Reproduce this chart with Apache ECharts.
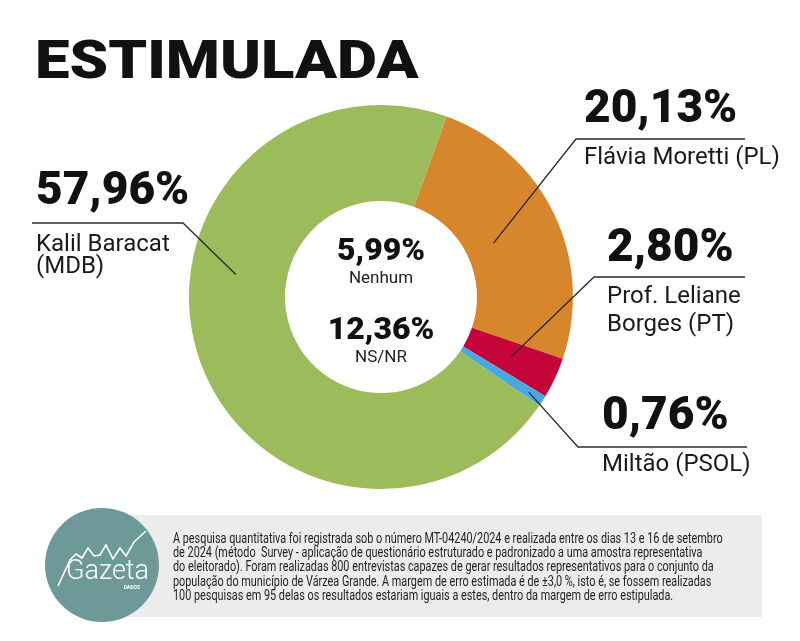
<!DOCTYPE html>
<html><head><meta charset="utf-8">
<script src="https://cdn.jsdelivr.net/npm/echarts@6/dist/echarts.min.js"></script>
<style>html,body{margin:0;padding:0;background:#fff}#c{width:800px;height:641px}</style>
</head><body><div id="c"></div>
<script>
// ---- data ----
const titleText = 'ESTIMULADA';
const candidates = ['Flávia Moretti (PL)', 'Prof. Leliane\nBorges (PT)', 'Miltão (PSOL)', 'Kalil Baracat\n(MDB)'];
const values = [20.13, 2.80, 0.76, 57.96];
const centerLabels = ['Nenhum', 'NS/NR'];
const centerValues = [5.99, 12.36];
const footerLines = [
  'A pesquisa quantitativa foi registrada sob o número MT-04240/2024 e realizada entre os dias 13 e 16 de setembro',
  'de 2024 (método  Survey - aplicação de questionário estruturado e padronizado a uma amostra representativa',
  'do eleitorado). Foram realizadas 800 entrevistas capazes de gerar resultados representativos para o conjunto da',
  'população do município de Várzea Grande. A margem de erro estimada é de ±3,0 %, isto é, se fossem realizadas',
  '100 pesquisas em 95 delas os resultados estariam iguais a estes, dentro da margem de erro estipulada.'
];
const logoText = 'Gazeta';
const logoSub = 'DADOS';

// ---- styles / layout ----
const colors = ['#d8862b', '#c5043a', '#48a8e0', '#9cbb5a'];
const CX = 381, CY = 297, R0 = 96, R1 = 192;
const labelPlacement = [
  {x: 584, top: 86,  gap: 10, lh: 28, lineY: 139, lineX0: 576, lineX1: 745, frac: 0.5,   rFrac: 0.30},
  {x: 607, top: 225, gap: 10, lh: 28, lineY: 277, lineX0: 594, lineX1: 745, frac: 0.5,   rFrac: 0.49},
  {x: 602, top: 393, gap: 10, lh: 28, lineY: 447, lineX0: 578, lineX1: 747, frac: 0.5,   rFrac: 0.83},
  {x: 36,  top: 168, gap: 18, lh: 22, lineY: 223, lineX0: 183, lineX1: 32,  frac: 0.604, rFrac: 0.53}
];
const fmt = v => v.toFixed(2).replace('.', ',') + '%';

const rich = {p: {fontFamily: 'Roboto', fontWeight: 900, fontSize: 46, lineHeight: 48, color: '#111'}};
labelPlacement.forEach((P, i) => {
  rich['s' + i] = {fontSize: 1, lineHeight: P.gap};
  rich['n' + i] = {fontFamily: 'Roboto', fontSize: 24, lineHeight: P.lh, color: '#1a1a1a'};
});

const chart = echarts.init(document.getElementById('c'), null, {renderer: 'canvas'});

const centerGraphics = [];
centerValues.forEach((v, i) => {
  const base = i === 0 ? -45 : 34;
  centerGraphics.push({type: 'text', x: CX, y: CY + base, z: 10,
    style: {text: fmt(v), fontFamily: 'Roboto', fontWeight: 900, fontSize: 32, fill: '#111', align: 'center', verticalAlign: 'middle'}});
  centerGraphics.push({type: 'text', x: CX, y: CY + base + 27, z: 10,
    style: {text: centerLabels[i], fontFamily: 'Roboto', fontSize: 17, fill: '#222', align: 'center', verticalAlign: 'middle'}});
});

const pieBase = {
  type: 'pie',
  center: [CX, CY],
  radius: [R0, R1],
  startAngle: 70,
  clockwise: true,
  avoidLabelOverlap: false,
  emphasis: {disabled: true},
  animation: false
};

const option = {
  animation: false,
  backgroundColor: '#ffffff',
  graphic: [
    {type: 'text', x: 35, y: 65, scaleX: 1.165,
      style: {text: titleText, fontFamily: 'Roboto', fontWeight: 900, fontSize: 53, fill: '#111', align: 'left', verticalAlign: 'middle'}},
    {type: 'rect', shape: {x: 95, y: 515, width: 667, height: 102}, style: {fill: '#ececec'}},
    {type: 'circle', shape: {cx: 102, cy: 565, r: 57}, style: {fill: '#6d9a98'}},
    {type: 'polyline', shape: {points: [[58,586],[70,560],[76,554],[82,558],[88,548],[94,556],[100,555],[106,545],[113,559],[120,548],[126,556],[134,542],[146,531]]},
      style: {stroke: '#ffffff', lineWidth: 1.6, fill: null}},
    {type: 'text', x: 66, y: 572,
      style: {text: logoText, fontFamily: 'Roboto', fontWeight: 300, fontSize: 27, fill: '#ffffff', align: 'left', verticalAlign: 'middle'}},
    {type: 'text', x: 140, y: 588,
      style: {text: logoSub, fontFamily: 'Roboto', fontWeight: 700, fontSize: 5, fill: '#ffffff', align: 'right', verticalAlign: 'middle'}},
    {type: 'text', x: 173, y: 532, scaleX: 0.775,
      style: {text: footerLines.join('\n'), fontFamily: 'Roboto', fontSize: 14, lineHeight: 14.3, fill: '#222', align: 'left', verticalAlign: 'top'}}
  ].concat(centerGraphics),
  series: [
    Object.assign({}, pieBase, {
      name: 'slices',
      z: 2,
      itemStyle: {borderWidth: 0},
      label: {show: false},
      labelLine: {show: false},
      data: candidates.map((n, i) => ({name: n.replace('\n', ' '), value: values[i], itemStyle: {color: colors[i]}}))
    }),
    Object.assign({}, pieBase, {
      name: 'labels',
      z: 5,
      silent: true,
      itemStyle: {color: 'rgba(0,0,0,0)', borderWidth: 0},
      label: {
        show: true,
        position: 'outside',
        overflow: 'none',
        formatter: p => {
          const i = p.dataIndex;
          return '{p|' + fmt(values[i]) + '}\n{s' + i + '| }\n' +
            candidates[i].split('\n').map(t => '{n' + i + '|' + t + '}').join('\n');
        },
        rich: rich
      },
      labelLine: {show: true, smooth: false, length: 10, length2: 10, lineStyle: {color: '#2a2a2a', width: 1.3, opacity: 1}},
      labelLayout: params => {
        const i = params.dataIndex;
        const P = labelPlacement[i];
        let lay = null;
        try { lay = chart.getModel().getSeriesByIndex(1).getData().getItemLayout(i); } catch (e) {}
        const res = {x: P.x, y: P.top, align: 'left', verticalAlign: 'top'};
        if (lay) {
          const a = lay.startAngle + P.frac * (lay.endAngle - lay.startAngle);
          const r = lay.r0 + P.rFrac * (lay.r - lay.r0);
          const ax = lay.cx + r * Math.cos(a), ay = lay.cy + r * Math.sin(a);
          res.labelLinePoints = [[ax, ay], [P.lineX0, P.lineY], [P.lineX1, P.lineY]];
        }
        return res;
      },
      data: candidates.map((n, i) => ({name: n.replace('\n', ' '), value: values[i]}))
    })
  ]
};
chart.setOption(option);
</script>
</body></html>
